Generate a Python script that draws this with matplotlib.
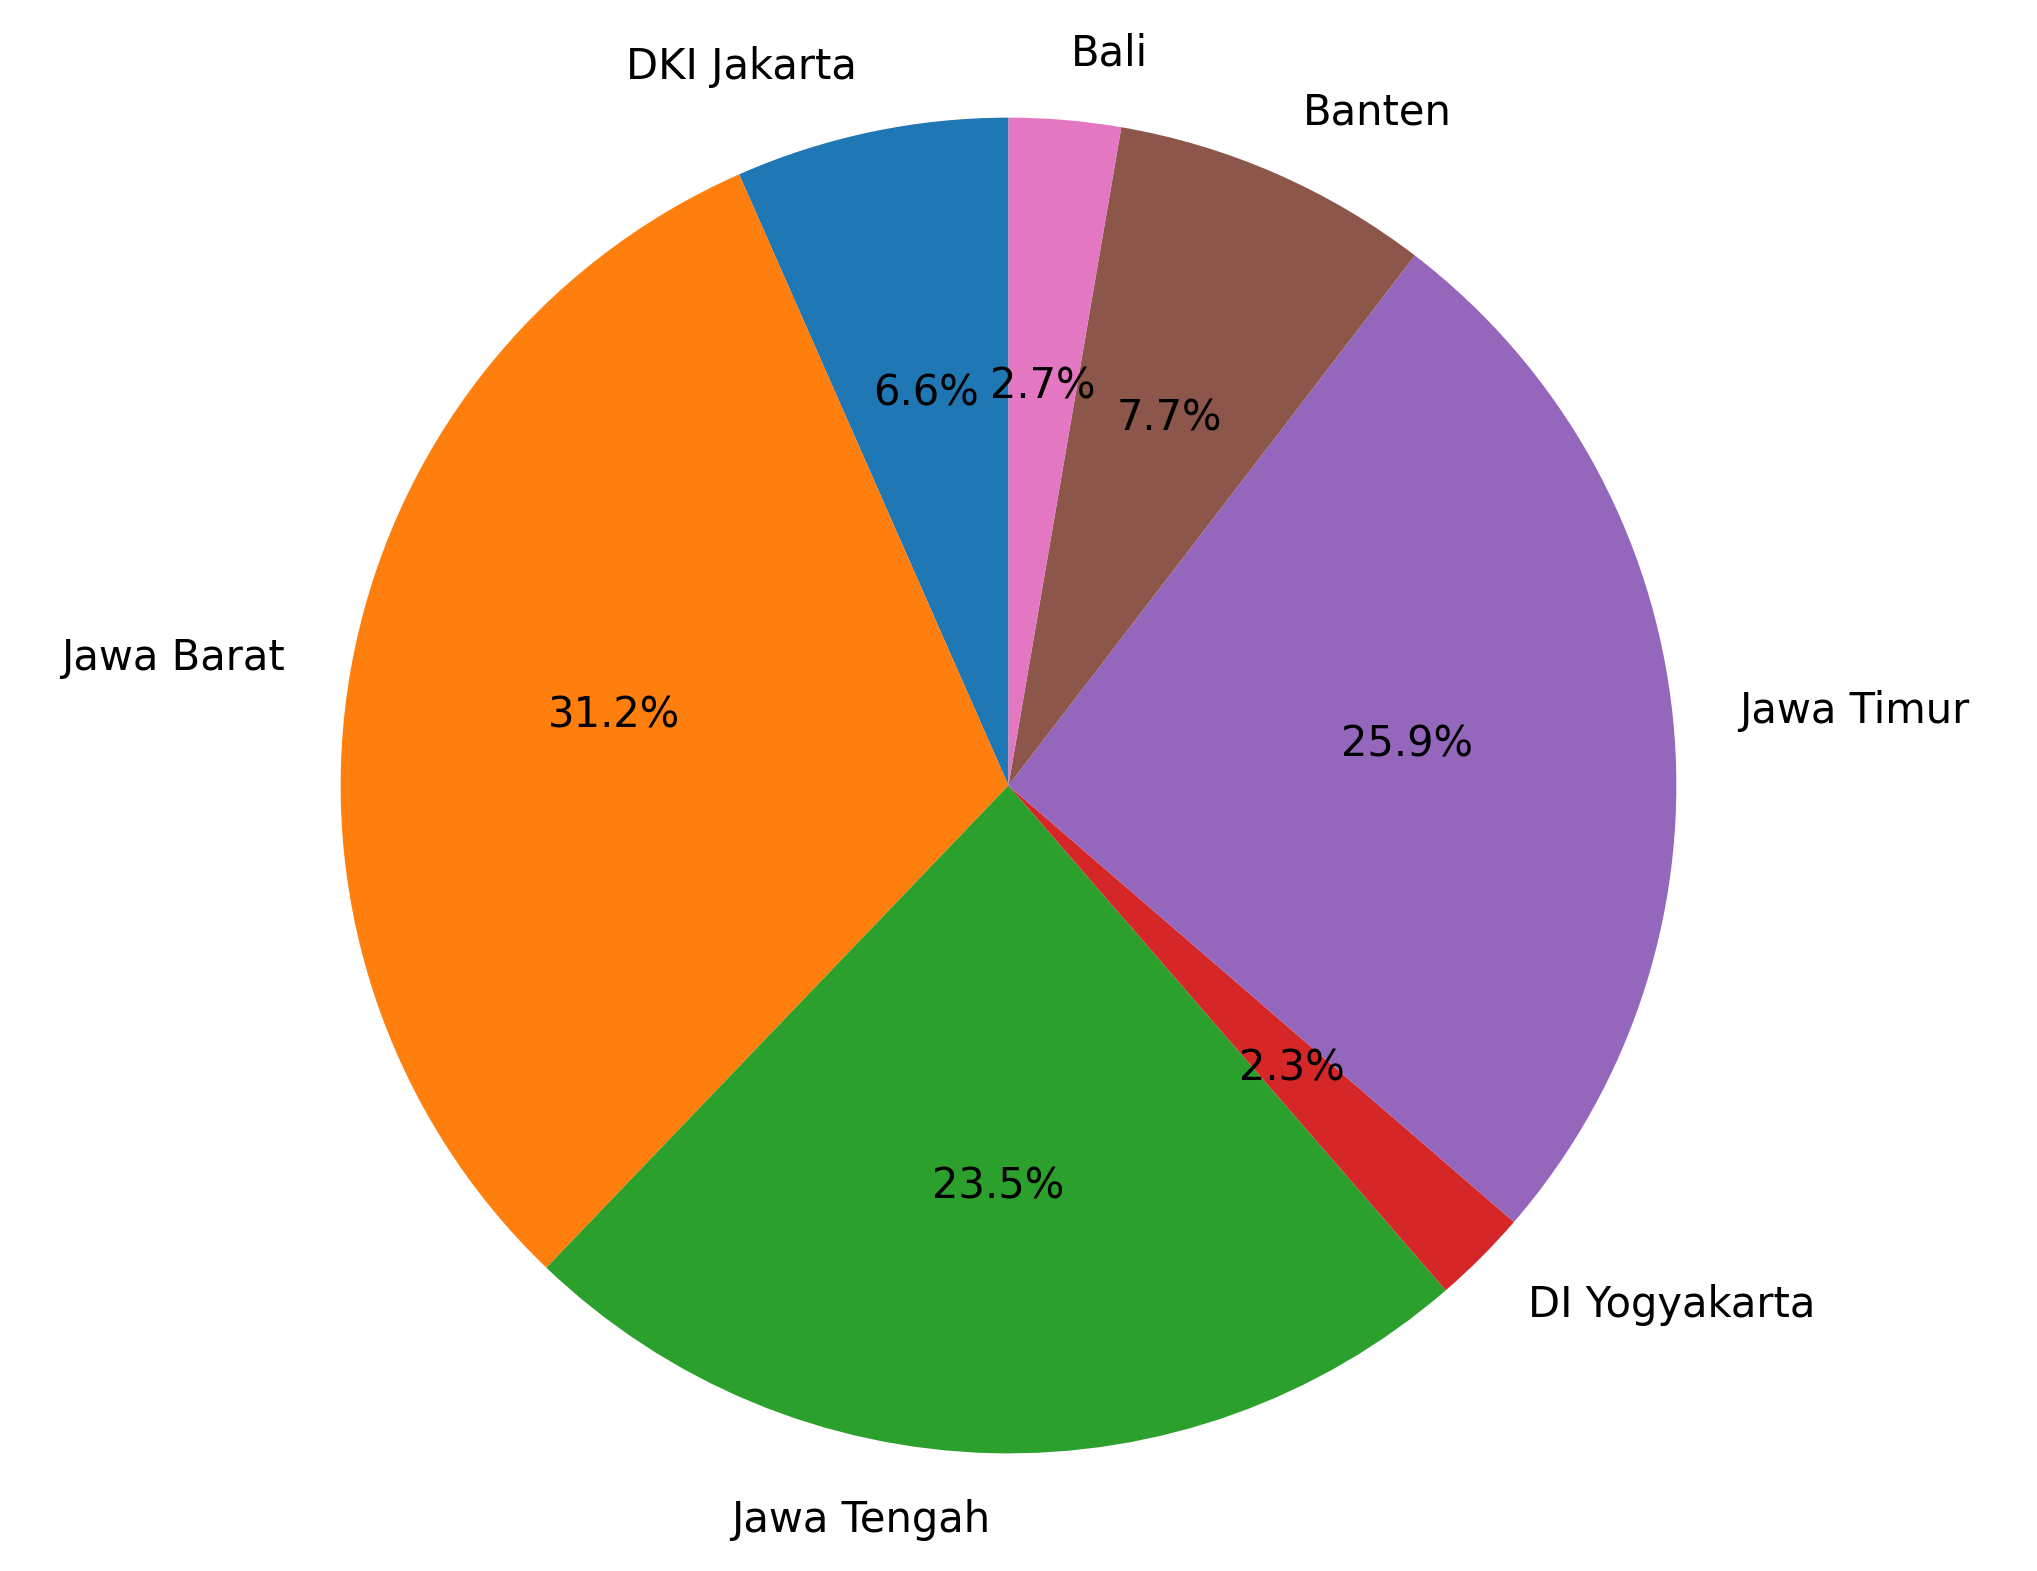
import matplotlib
matplotlib.use("Agg")
import matplotlib.pyplot as plt

labels = ["DKI Jakarta", "Jawa Barat", "Jawa Tengah", "DI Yogyakarta", "Jawa Timur", "Banten", "Bali"]
values = [6.6, 31.2, 23.5, 2.3, 25.9, 7.7, 2.7]

fig = plt.figure(figsize=(2037/300, 1571/300), dpi=300)
ax = fig.add_axes([0, 0, 1, 1])
ax.pie(values, labels=labels, autopct="%1.1f%%", startangle=90,
       textprops={"fontsize": 10})
ax.set_aspect("equal")
ax.set_xlim(-1.51, 1.54)
ax.set_ylim(-1.175, 1.175)
ax.axis("off")
fig.savefig("out.png", dpi=300)
